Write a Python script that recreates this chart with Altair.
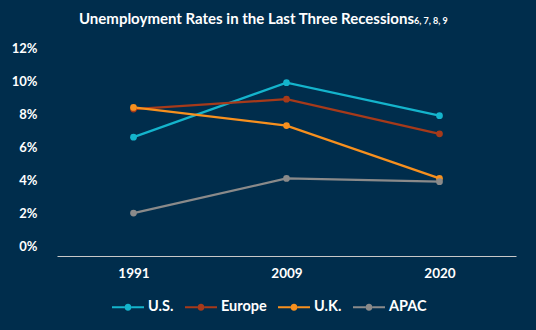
import altair as alt
import pandas as pd

years = ["1991", "2009", "2020"]
series = ["U.S.", "Europe", "U.K.", "APAC"]
us = [6.6, 9.9, 7.9]
europe = [8.3, 8.9, 6.8]
uk = [8.4, 7.3, 4.1]
apac = [2.0, 4.1, 3.9]
colors = ["#14b4cc", "#a63a1a", "#f7901e", "#8a8a8a"]
y_ticks = [0, 2, 4, 6, 8, 10, 12]

rows = []
for name, vals in zip(series, [us, europe, uk, apac]):
    for yr, v in zip(years, vals):
        rows.append({"year": yr, "series": name, "rate": v})
df = pd.DataFrame(rows)

FONT = "Lato"
BG = "#002d4c"

sym = ("M-1,-0.06 L-0.22,-0.06 L-0.22,0.06 L-1,0.06 Z "
       "M0.22,-0.06 L1,-0.06 L1,0.06 L0.22,0.06 Z "
       "M-0.22,0 A0.22,0.22 0 1,0 0.22,0 A0.22,0.22 0 1,0 -0.22,0 Z")

x = alt.X("year:N", sort=years, title=None,
          scale=alt.Scale(type="point", padding=0.5),
          axis=alt.Axis(labelAngle=0, labelColor="white", labelFont=FONT,
                        labelFontSize=13.5, labelFontWeight="bold", ticks=False,
                        domainColor="#c8c8c8", domainWidth=1.2, labelPadding=10))
y = alt.Y("rate:Q", title=None,
          scale=alt.Scale(domain=[-0.6, 12], nice=False, zero=False),
          axis=alt.Axis(values=y_ticks, labelExpr="datum.value + '%'",
                        labelColor="white", labelFont=FONT, labelFontSize=13,
                        labelFontWeight="bold", ticks=False, domain=False,
                        grid=False, labelPadding=20))
color = alt.Color("series:N", sort=series,
                  scale=alt.Scale(domain=series, range=colors),
                  legend=alt.Legend(orient="none", legendX=55, legendY=243,
                                    direction="horizontal", title=None,
                                    symbolType=sym, symbolSize=1024,
                                    symbolStrokeWidth=0, labelColor="white",
                                    labelFont=FONT, labelFontSize=14.5,
                                    labelFontWeight="bold", columnPadding=11,
                                    labelOffset=4))

base = alt.Chart(df)
lines = base.mark_line(strokeWidth=2.2).encode(x=x, y=y, color=color,
                                               order=alt.Order("year:N"))
points = base.mark_circle(size=45, opacity=1).encode(
    x=x, y=y,
    color=alt.Color("series:N", sort=series,
                    scale=alt.Scale(domain=series, range=colors), legend=None))

title_df = pd.DataFrame({"t": ["Unemployment Rates in the Last Three Recessions"]})
foot_df = pd.DataFrame({"t": ["6, 7, 8, 9"]})
title = alt.Chart(title_df).mark_text(align="right", baseline="alphabetic",
                                      font=FONT, fontSize=15, fontWeight="bold",
                                      color="white").encode(
    text="t:N", x=alt.value(357), y=alt.value(-24))
foot = alt.Chart(foot_df).mark_text(align="left", baseline="alphabetic",
                                    font=FONT, fontSize=9, fontWeight="bold",
                                    color="white").encode(
    text="t:N", x=alt.value(357), y=alt.value(-24))

chart = alt.layer(lines, points, title, foot).properties(
    width=459, height=208,
    background=BG,
    padding={"left": 57, "top": 48, "right": 20, "bottom": 74},
    autosize=alt.AutoSizeParams(type="none"),
).configure_view(stroke=None)

chart.save("out.html", embed_options={"renderer": "svg", "actions": False})
